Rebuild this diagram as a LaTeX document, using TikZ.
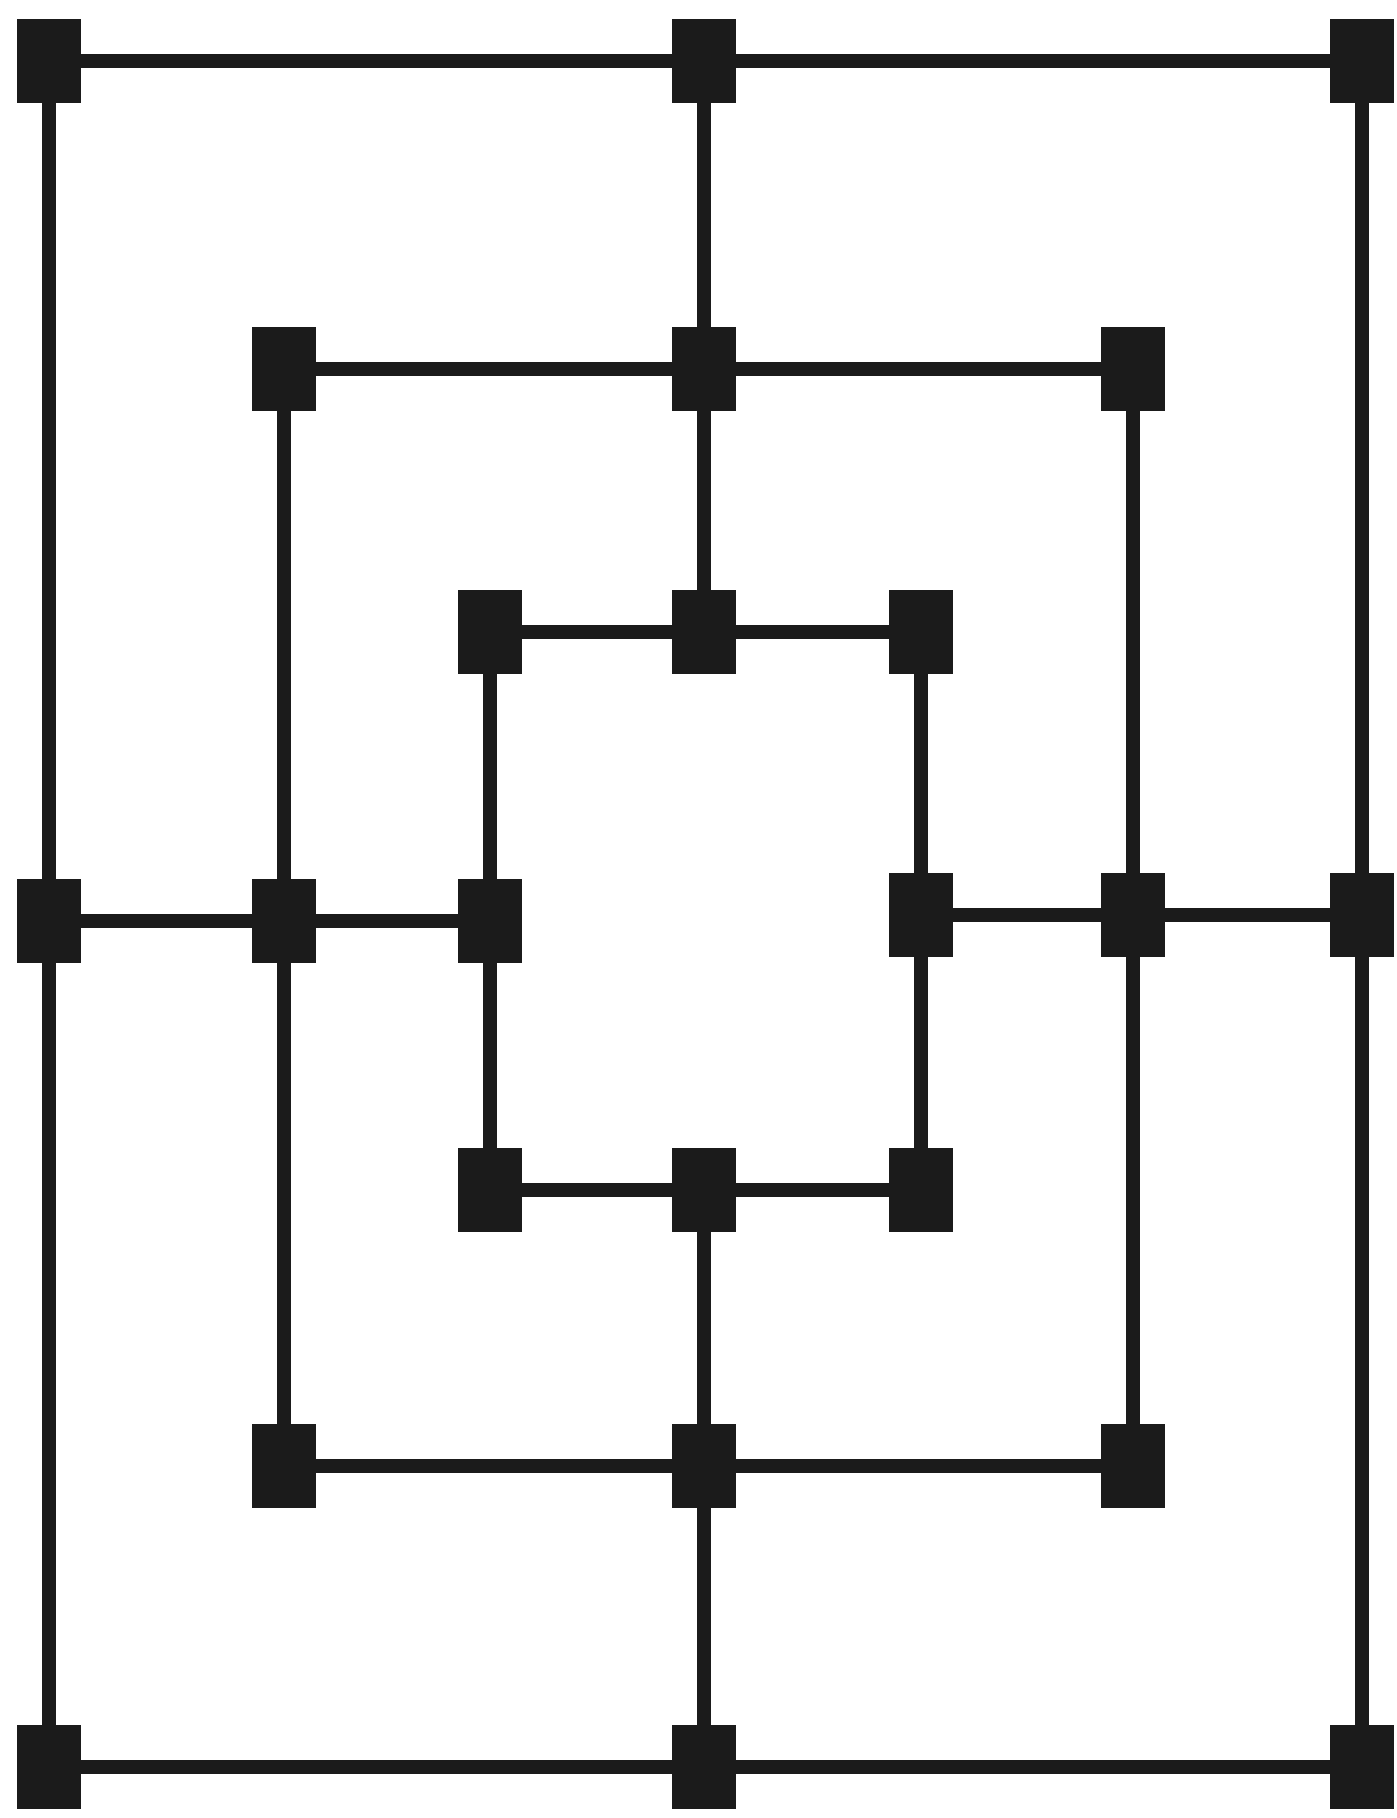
\documentclass[tikz,border=0pt]{standalone}
\usepackage{tikz}
\usetikzlibrary{positioning}
\definecolor{ink}{HTML}{1B1B1B}
\tikzset{
  spot/.style={draw=none,fill=ink,rectangle,inner sep=0pt,outer sep=0pt,
    minimum width=0.63cm,minimum height=0.83cm},
  line/.style={draw=ink,line width=0.145cm,shorten <=-1pt,shorten >=-1pt}
}
\begin{document}
\begin{tikzpicture}[x=0.01cm,y=-0.01cm]
  \useasboundingbox[fill=white] (0,0) rectangle (1396,1818);
  % outer square
  \node[spot] (oTL) at (49,61) {};
  \node[spot] (oTM) at (704,61) {};
  \node[spot] (oTR) at (1362,61) {};
  \node[spot] (oML) at (49,921) {};
  \node[spot] (oMR) at (1362,915) {};
  \node[spot] (oBL) at (49,1767) {};
  \node[spot] (oBM) at (704,1767) {};
  \node[spot] (oBR) at (1362,1767) {};
  % middle square
  \node[spot] (mTL) at (284,369) {};
  \node[spot] (mTM) at (704,369) {};
  \node[spot] (mTR) at (1133,369) {};
  \node[spot] (mML) at (284,921) {};
  \node[spot] (mMR) at (1133,915) {};
  \node[spot] (mBL) at (284,1466) {};
  \node[spot] (mBM) at (704,1466) {};
  \node[spot] (mBR) at (1133,1466) {};
  % inner square
  \node[spot] (iTL) at (490,632) {};
  \node[spot] (iTM) at (704,632) {};
  \node[spot] (iTR) at (921,632) {};
  \node[spot] (iML) at (490,921) {};
  \node[spot] (iMR) at (921,915) {};
  \node[spot] (iBL) at (490,1190) {};
  \node[spot] (iBM) at (704,1190) {};
  \node[spot] (iBR) at (921,1190) {};
  \draw[line] (oTL)--(oTM) (oTM)--(oTR) (oTR)--(oMR) (oMR)--(oBR)
    (oBR)--(oBM) (oBM)--(oBL) (oBL)--(oML) (oML)--(oTL);
  \draw[line] (mTL)--(mTM) (mTM)--(mTR) (mTR)--(mMR) (mMR)--(mBR)
    (mBR)--(mBM) (mBM)--(mBL) (mBL)--(mML) (mML)--(mTL);
  \draw[line] (iTL)--(iTM) (iTM)--(iTR) (iTR)--(iMR) (iMR)--(iBR)
    (iBR)--(iBM) (iBM)--(iBL) (iBL)--(iML) (iML)--(iTL);
  \draw[line] (oTM)--(mTM) (mTM)--(iTM);
  \draw[line] (oML)--(mML) (mML)--(iML);
  \draw[line] (iMR)--(mMR) (mMR)--(oMR);
  \draw[line] (iBM)--(mBM) (mBM)--(oBM);
\end{tikzpicture}
\end{document}
